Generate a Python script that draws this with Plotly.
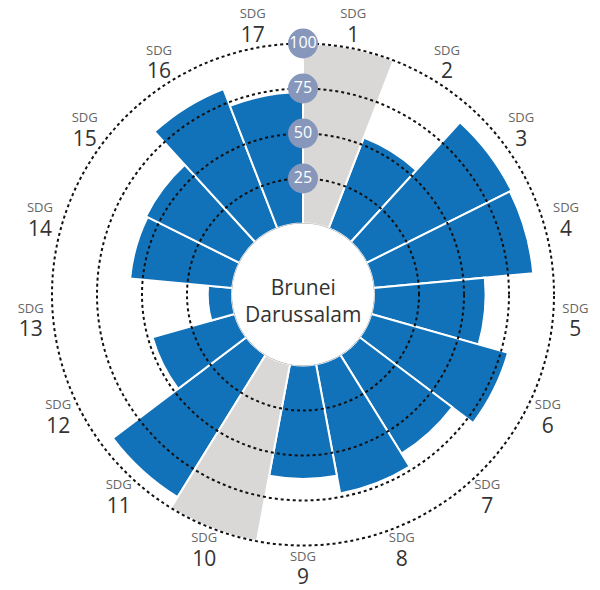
import plotly.graph_objects as go

# ---- data ----
goals = [f"SDG {i}" for i in range(1, 18)]
goal_numbers = [str(i) for i in range(1, 18)]
scores = [None, 54, 90, 89, 62, 79, 64.5, 73, 63, None, 93, 47.5, 13.5, 57, 58, 83, 73]
missing_level = 100
radial_ticks = [25, 50, 75, 100]
country = "Brunei Darussalam"

BLUE = "#1172ba"
GRAY = "#dad8d6"
TICKBG = "#8697bb"
FONT = "Open Sans"

have = [s is not None for s in scores]
blue_theta = [g for g, h in zip(goals, have) if h]
blue_r = [s for s in scores if s is not None]
gray_theta = [g for g, h in zip(goals, have) if not h]
gray_r = [missing_level for h in have if not h]

label_text = [
    f"<span style='font-size:13px;color:#666666'>SDG</span><br>"
    f"<span style='font-size:21px;color:#333333'>{n}</span>"
    for n in goal_numbers
]
label_r = 112.5

# ---- geometry of the polar areas (page body has an 8px margin) ----
W, H = 592, 582
cx, cy = 295, 286.5
R = 251            # pixel radius of value 100
R0 = 71            # pixel radius of value 0 (hole)
hole = R0 / R
outer_max = 118    # overlay polar reaches a bit further, for grid + labels
R2 = R0 + (R - R0) * outer_max / 100
hole2 = R0 / R2


def domain(rad):
    return dict(x=[(cx - rad) / W, (cx + rad) / W],
                y=[(H - cy - rad) / H, (H - cy + rad) / H])


fig = go.Figure()
fig.add_trace(go.Barpolar(
    r=blue_r, theta=blue_theta, subplot="polar",
    marker=dict(color=BLUE, line=dict(color="white", width=2)),
    hoverinfo="skip"))
fig.add_trace(go.Barpolar(
    r=gray_r, theta=gray_theta, subplot="polar",
    marker=dict(color=GRAY, line=dict(color="white", width=2)),
    hoverinfo="skip"))

# goal labels around the outside (overlay polar)
fig.add_trace(go.Scatterpolar(
    r=[label_r] * len(goals), theta=goals, subplot="polar2",
    mode="text", cliponaxis=False, text=label_text,
    textposition="middle center",
    textfont=dict(family=FONT, size=18, color="#333333"), hoverinfo="skip"))

# hole outline
n_circ = 361
fig.add_trace(go.Scatterpolar(
    r=[0] * n_circ, theta=list(range(n_circ)), subplot="polar3",
    mode="lines", line=dict(color="#aaaaaa", width=1), hoverinfo="skip"))
# radial tick badges
fig.add_trace(go.Scatterpolar(
    r=radial_ticks, theta=[0] * len(radial_ticks), subplot="polar3",
    mode="markers+text", cliponaxis=False,
    marker=dict(size=30, color=TICKBG),
    text=[str(t) for t in radial_ticks], textposition="middle center",
    textfont=dict(family=FONT, size=16, color="white"), hoverinfo="skip"))

no_ticks = dict(showticklabels=False, ticks="", showline=False)
cat_angular = dict(type="category", categoryarray=goals,
                   direction="clockwise", rotation=90 - 180 / len(goals),
                   showticklabels=False, showgrid=False, showline=False, ticks="")

fig.update_layout(
    width=W, height=H,
    margin=dict(l=0, r=0, t=0, b=0),
    paper_bgcolor="white",
    showlegend=False,
    polar=dict(
        domain=domain(R), hole=hole, bargap=0, bgcolor="white",
        radialaxis=dict(range=[0, 100], showgrid=False, **no_ticks),
        angularaxis=cat_angular,
    ),
    polar2=dict(
        domain=domain(R2), hole=hole2, bgcolor="rgba(0,0,0,0)",
        radialaxis=dict(range=[0, outer_max], tickvals=radial_ticks, showgrid=True,
                        gridcolor="#111111", griddash="dot", gridwidth=1.6,
                        **no_ticks),
        angularaxis=cat_angular,
    ),
    polar3=dict(
        domain=domain(R), hole=hole, bgcolor="rgba(0,0,0,0)",
        radialaxis=dict(range=[0, 100], showgrid=False, **no_ticks),
        angularaxis=dict(direction="clockwise", rotation=90, visible=False,
                         showgrid=False),
    ),
    annotations=[dict(
        x=cx / W, y=(H - cy) / H, xref="paper", yref="paper", yshift=-6,
        text="Brunei<br>Darussalam", showarrow=False,
        font=dict(family=FONT, size=21, color="#333333"))],
)

fig.write_html("out.html")
